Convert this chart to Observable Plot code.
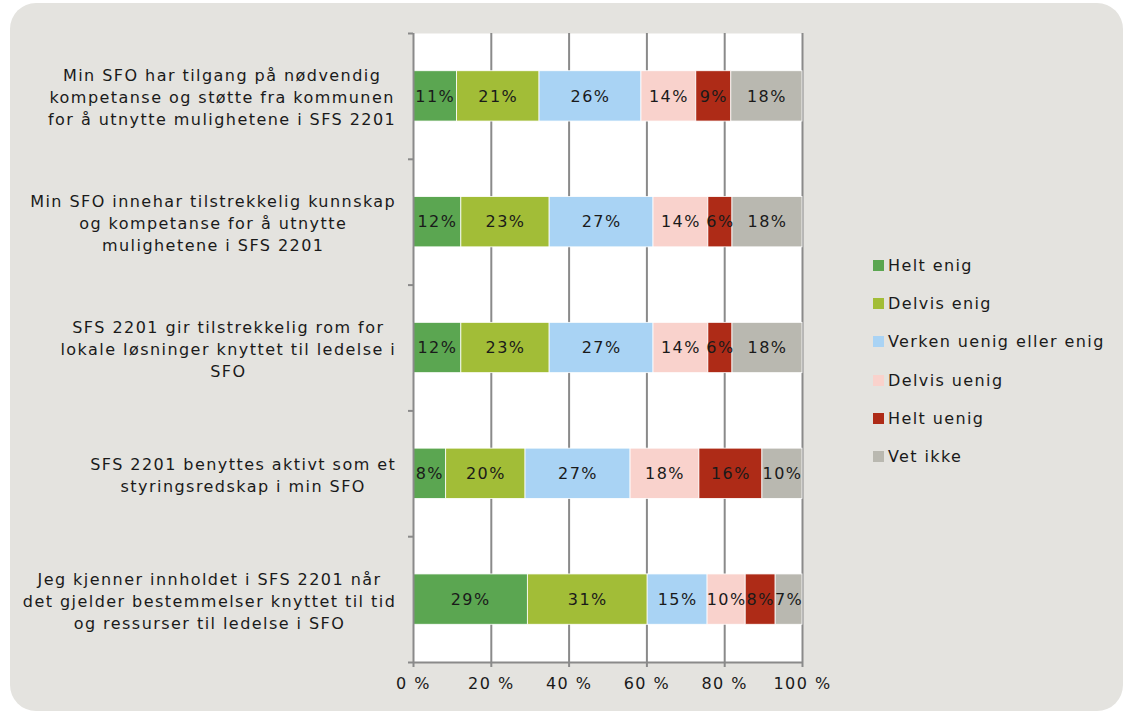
<!DOCTYPE html>
<html><head><meta charset="utf-8">
<script src="https://cdn.jsdelivr.net/npm/d3@7"></script>
<script src="https://cdn.jsdelivr.net/npm/@observablehq/plot@0.6"></script>
<style>
body{margin:0;background:#fff;font-family:"DejaVu Sans",sans-serif;color:#1a1a1a;}
#wrap{position:relative;width:1123px;height:711px;overflow:hidden;}
#bg{position:absolute;left:10px;top:3px;width:1113px;height:708px;background:#e4e3df;border-radius:26px;}
#chart{position:absolute;left:0;top:0;}
#legend{position:absolute;left:873px;top:246px;font-size:16px;letter-spacing:1.4px;}
.li{display:flex;align-items:center;height:38.3px;}
.sw{width:11px;height:11px;margin-right:4px;}
</style>
</head><body>
<div id="wrap"><div id="bg"></div><div id="chart"></div><div id="legend"></div></div>
<script>
const categories = [
  "Min SFO har tilgang på nødvendig\nkompetanse og støtte fra kommunen\nfor å utnytte mulighetene i SFS 2201",
  "Min SFO innehar tilstrekkelig kunnskap\nog kompetanse for å utnytte\nmulighetene i SFS 2201",
  "SFS 2201 gir tilstrekkelig rom for\nlokale løsninger knyttet til ledelse i\nSFO",
  "SFS 2201 benyttes aktivt som et\nstyringsredskap i min SFO",
  "Jeg kjenner innholdet i SFS 2201 når\ndet gjelder bestemmelser knyttet til tid\nog ressurser til ledelse i SFO"
];
const answers = ["Helt enig","Delvis enig","Verken uenig eller enig","Delvis uenig","Helt uenig","Vet ikke"];
const colors = ["#5ba651","#a2bd37","#a9d3f4","#f9d2cc","#ae2b17","#b9b8b0"];
const heltEnig    = [11.2, 12.3, 12.3,  8.4, 29.4];
const delvisEnig  = [21.2, 22.7, 22.7, 20.4, 30.8];
const verken      = [26.2, 26.7, 26.7, 27.0, 15.4];
const delvisUenig = [14.1, 14.1, 14.1, 17.7,  9.8];
const heltUenig   = [ 9.0,  6.2,  6.2, 16.2,  7.7];
const vetIkke     = [18.3, 18.0, 18.0, 10.3,  6.9];
const xTicks = [0, 20, 40, 60, 80, 100];
const xTickLabels = ["0 %","20 %","40 %","60 %","80 %","100 %"];

const series = [heltEnig, delvisEnig, verken, delvisUenig, heltUenig, vetIkke];
const segments = [];
categories.forEach((c, i) => {
  let acc = 0;
  series.forEach((s, k) => {
    segments.push({i, answer: answers[k], v: s[i], x1: acc, x2: acc + s[i]});
    acc += s[i];
  });
});

const FONT = "DejaVu Sans";
const LS = 1.45;
const ctx = document.createElement("canvas").getContext("2d");
ctx.font = `16px "${FONT}"`;
const catMarks = categories.map((c, i) => {
  const w = Math.max(...c.split("\n").map(l => ctx.measureText(l).width + LS * (l.length - 1)));
  return Plot.text([c], {x: 0, y: i + 0.5, text: d => d, textAnchor: "middle",
    dx: -18 - w / 2, lineHeight: 1.375, fill: "#1a1a1a", fontSize: 16});
});

const gray = "#8a8a8a";
const chart = Plot.plot({
  width: 1123, height: 711,
  marginLeft: 413, marginRight: 321, marginTop: 33, marginBottom: 49,
  style: {background: "transparent", fontFamily: FONT, fontSize: "16px", color: "#1a1a1a", letterSpacing: LS + "px"},
  x: {domain: [0, 100]},
  y: {domain: [0, 5], reverse: true},
  color: {domain: answers, range: colors},
  marks: [
    Plot.frame({fill: "white", stroke: null}),
    Plot.ruleX(xTicks.slice(1), {stroke: gray, strokeWidth: 2}),
    Plot.rect(segments, {x1: "x1", x2: "x2", y1: d => d.i + 0.3, y2: d => d.i + 0.7,
      fill: "answer", stroke: "white", strokeWidth: 0.8}),
    Plot.text(segments, {x: d => (d.x1 + d.x2) / 2, y: d => d.i + 0.5,
      text: d => Math.round(d.v) + "%", fill: "#1a1a1a", fontSize: 16}),
    Plot.ruleX([0], {stroke: gray, strokeWidth: 2}),
    Plot.ruleY([5], {stroke: gray, strokeWidth: 2}),
    Plot.axisY({ticks: [0,1,2,3,4,5], tickFormat: () => "", tickSize: 5, stroke: gray, strokeWidth: 2}),
    Plot.axisX({ticks: xTicks, tickFormat: (d) => xTickLabels[xTicks.indexOf(d)], tickSize: 5,
      tickPadding: 10, stroke: gray, strokeWidth: 2, fill: "#1a1a1a", fontSize: 16}),
    ...catMarks
  ]
});
document.getElementById("chart").appendChild(chart);

const lg = document.getElementById("legend");
answers.forEach((a, k) => {
  const row = document.createElement("div");
  row.className = "li";
  row.innerHTML = `<div class="sw" style="background:${colors[k]}"></div><span>${a}</span>`;
  lg.appendChild(row);
});
</script>
</body></html>
